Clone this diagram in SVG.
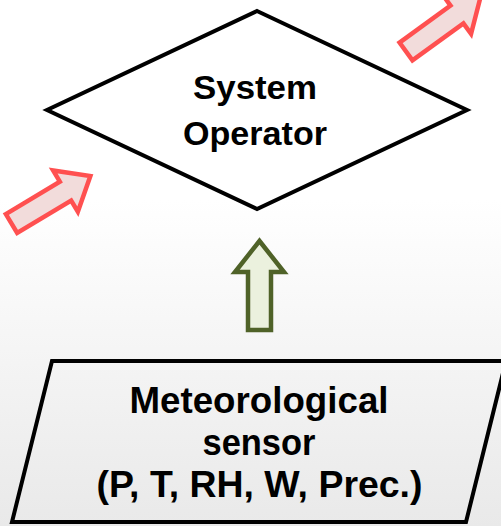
<svg xmlns="http://www.w3.org/2000/svg" width="501" height="526" viewBox="0 0 501 526">
<defs>
<linearGradient id="bg" x1="0" y1="0" x2="0" y2="1">
<stop offset="0" stop-color="#ffffff"/>
<stop offset="0.38" stop-color="#ffffff"/>
<stop offset="1" stop-color="#e9e9e9"/>
</linearGradient>
</defs>
<style>
.shape{stroke:#000;stroke-width:4;stroke-linejoin:miter}
.lbl{font-family:"Liberation Sans",Arial,sans-serif;font-weight:bold;fill:#000;text-anchor:middle}
.red{fill:#f2dcdb;stroke:#ff5050;stroke-width:4.5;stroke-linejoin:miter}
.green{fill:#ebf1de;stroke:#4f6228;stroke-width:4.5;stroke-linejoin:miter}
</style>
<rect x="0" y="0" width="501" height="526" fill="url(#bg)"/>
<g id="connectors">
<polygon class="red" transform="translate(11.5,223.5) rotate(-31)" points="0,-11 63,-11 63,-24 92,0 63,24 63,11 0,11"/>
<polygon class="red" transform="translate(406,51.5) rotate(-36)" points="0,-11 63,-11 63,-24 92,0 63,24 63,11 0,11"/>
<polygon class="green" points="259.5,241 284,272 271,272 271,330 248,330 248,272 235,272"/>
</g>
<g id="system-operator">
<polygon class="shape" fill="#fff" points="257,11 467,110 257,209 47,110"/>
<text class="lbl" font-size="34" x="255" y="98.5" textLength="124" lengthAdjust="spacingAndGlyphs">System</text>
<text class="lbl" font-size="34" x="255" y="144.5" textLength="144" lengthAdjust="spacingAndGlyphs">Operator</text>
</g>
<g id="meteorological-sensor">
<polygon class="shape" fill="none" points="52,361 506,361 466,522 12,522"/>
<text class="lbl" font-size="36" x="259" y="413" textLength="259" lengthAdjust="spacingAndGlyphs">Meteorological</text>
<text class="lbl" font-size="36" x="259" y="455" textLength="113" lengthAdjust="spacingAndGlyphs">sensor</text>
<text class="lbl" font-size="36" x="259.5" y="497" textLength="326" lengthAdjust="spacingAndGlyphs">(P, T, RH, W, Prec.)</text>
</g>
</svg>
